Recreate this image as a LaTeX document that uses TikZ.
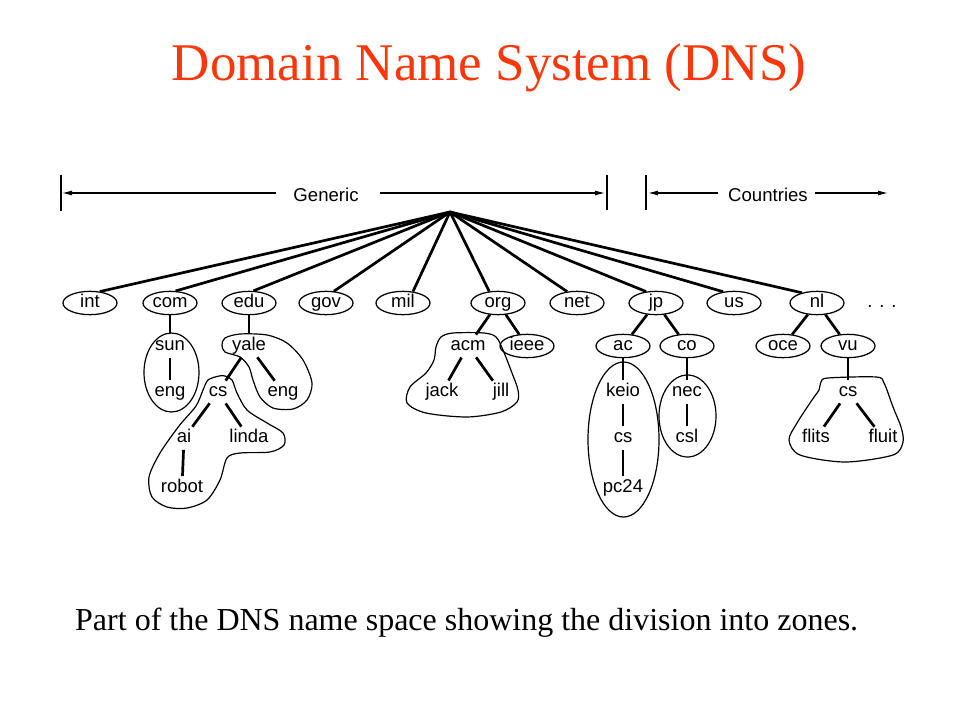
\documentclass[tikz,border=0pt]{standalone}
\usepackage{fontspec}
\setmainfont{Liberation Serif}
\newfontfamily\helv{Liberation Sans}
\usetikzlibrary{shapes.geometric,arrows.meta}
\definecolor{titlered}{RGB}{250,55,10}
\begin{document}
\begin{tikzpicture}[x=1pt,y=-1pt,
	dom/.style={ellipse,minimum width=54pt,minimum height=22pt,inner sep=0pt,
		font=\helv\fontsize{18.5}{18.5}\selectfont,text height=13pt,text depth=3.5pt},
	box/.style={dom,draw,line width=1.25pt},
	edge/.style={line width=2.7pt},
	zone/.style={line width=1.2pt},
	span/.style={line width=1.1pt,-{Latex[length=10pt,width=5pt]}}]
	\useasboundingbox (0,0) rectangle (960,720);
	% title and caption
	\node[anchor=base,text=titlered,font=\fontsize{53}{53}\selectfont] (title) at (489,80) {Domain Name System (DNS)};
	\node[anchor=base west,inner sep=0pt,font=\fontsize{32}{32}\selectfont] (caption) at (75,630) {Part of the DNS name space showing the division into zones.};
	% generic / countries
	\draw[line width=1.1pt] (61,175)--(61,211) (607,175)--(607,210) (646,175)--(646,210);
	\coordinate (gl) at (62,193);
	\coordinate (gr) at (605,193);
	\coordinate (cl) at (648,193);
	\coordinate (cr) at (888,193);
	\node[anchor=base,inner sep=0pt,font=\helv\fontsize{18.6}{18.6}\selectfont] (generic) at (326,201) {Generic};
	\node[anchor=base,inner sep=0pt,font=\helv\fontsize{18.6}{18.6}\selectfont] (countries) at (768,201) {Countries};
	\draw[span] ([xshift=-17pt]generic.west|-gl) -- (gl);
	\draw[span] ([xshift=21pt]generic.east|-gr) -- (gr);
	\draw[span] ([xshift=-10pt]countries.west|-cl) -- (cl);
	\draw[span] ([xshift=7pt]countries.east|-cr) -- (cr);
	% top level
	\coordinate (root) at (450,212);
	\foreach \n/\x/\a in {int/90/49,com/170/65,edu/249/70,gov/326/56,mil/403/49,org/498/127,net/577/131,jp/656/131,us/734/134,nl/817/146}{
		\node[box] (\n) at (\x,303) {\n};
		\draw[edge] (root) -- (\n.\a);
	}
	\node[dom] (dots) at (882,303) {. . .};
	% lower levels
	\node[dom] (sun) at (170,346) {sun};
	\node[dom] (yale) at (249,346) {yale};
	\node[dom] (acm) at (468,346) {acm};
	\node[box] (ieee) at (527,346) {ieee};
	\node[box] (ac) at (623,346) {ac};
	\node[box] (co) at (687,346) {co};
	\node[box] (oce) at (783,346) {oce};
	\node[box] (vu) at (848,346) {vu};
	\node[dom] (eng1) at (170,392) {eng};
	\node[dom] (cs1) at (218,392) {cs};
	\node[dom] (eng2) at (283,392) {eng};
	\node[dom] (jack) at (442,392) {jack};
	\node[dom] (jill) at (501,392) {jill};
	\node[dom] (keio) at (623,392) {keio};
	\node[dom] (nec) at (687,392) {nec};
	\node[dom] (cs3) at (848,392) {cs};
	\node[dom] (ai) at (184,438) {ai};
	\node[dom] (linda) at (249,438) {linda};
	\node[dom] (cs2) at (623,438) {cs};
	\node[dom] (csl) at (687,438) {csl};
	\node[dom] (flits) at (816,438) {flits};
	\node[dom] (fluit) at (883,438) {fluit};
	\node[dom] (robot) at (182,488) {robot};
	\node[dom] (pc24) at (623,488) {pc24};
	\foreach \p/\c in {com/sun,sun/eng1,edu/yale,yale/cs1,yale/eng2,cs1/ai,cs1/linda,ai/robot,
		org/acm,org/ieee,acm/jack,acm/jill,jp/ac,jp/co,ac/keio,keio/cs2,cs2/pc24,co/nec,nec/csl,
		nl/oce,nl/vu,vu/cs3,cs3/flits,cs3/fluit}
		\draw[edge] (\p) -- (\c);
	% zones
	\draw[zone] (171.5,372.5) ellipse [x radius=27.5pt,y radius=39.5pt];
	\draw[zone] (623.5,439.5) ellipse [x radius=35.5pt,y radius=77.5pt];
	\draw[zone] (687.5,416) ellipse [x radius=28.5pt,y radius=41pt];
	\draw[zone] plot[smooth cycle] coordinates {(222,345) (225,338) (240,334) (267,335) (287,343) (303,360) (312,383) (307,400) (293,409) (273,408) (260,397) (253,380) (249,367) (240,357) (225,352)};
	\draw[zone] plot[smooth cycle] coordinates {(219,376) (208,380) (203,390) (196,406) (179,426) (160,453) (149,477) (152,497) (167,507) (187,508) (207,500) (220,480) (227,458) (240,453) (270,452) (284,445) (283,433) (267,423) (247,410) (237,393) (232,380) (225,376)};
	\draw[zone] plot[smooth cycle] coordinates {(436,347) (441,337) (453,333) (484,333) (496,337) (503,350) (512,373) (518,390) (517,402) (501,412) (467,417) (426,413) (407,403) (410,387) (426,373) (434,360)};
	\draw[zone] plot[smooth cycle] coordinates {(821,382) (828,378) (876,377) (884,383) (893,407) (901,427) (903,442) (893,455) (845,462) (800,455) (789,440) (797,423) (812,400) (819,390)};
\end{tikzpicture}
\end{document}
